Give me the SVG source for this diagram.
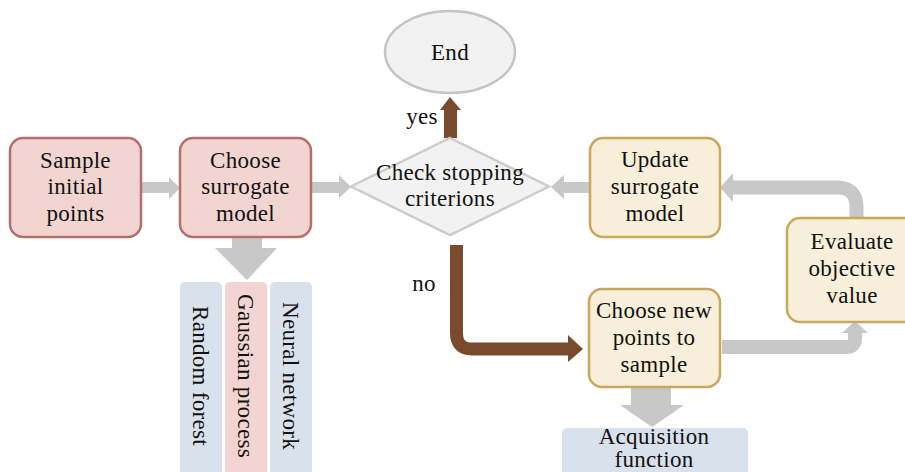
<svg xmlns="http://www.w3.org/2000/svg" width="905" height="472" viewBox="0 0 905 472">
<style>
text{font-family:"Liberation Serif","Times New Roman",serif;font-size:23px;letter-spacing:0.3px;fill:#111;text-anchor:middle}
.pink{fill:#f2d4d1;stroke:#b46f6b;stroke-width:2.5}
.cream{fill:#f7efd9;stroke:#c9a75c;stroke-width:2.5}
.blue{fill:#d9e2ec;stroke:none}
.pinkl{fill:#f2d4d1;stroke:none}
.grey{fill:#c8c8c8;stroke:none}
.greyl{fill:none;stroke:#c8c8c8;stroke-width:14}
.brown{fill:#7a4a2e;stroke:none}
.brownl{fill:none;stroke:#7a4a2e;stroke-width:13}
</style>
<rect width="905" height="472" fill="#ffffff"/>
<g id="connectors">
  <polygon class="grey" points="140,182 169,182 169,177 180,188 169,199 169,193 140,193"/>
  <polygon class="grey" points="311,182 339,182 339,175 351,187 339,198 339,193 311,193"/>
  <polygon class="grey" points="590,182 564,182 564,175 551,187 564,199 564,193 590,193"/>
  <polygon class="brown" points="444,138 444,110 440,110 450,97 461,110 457,110 457,138"/>
  <path class="brownl" d="M456.5,245 V333 Q456.5,349 472,349 H569"/>
  <polygon class="brown" points="568,335 583,349 568,362"/>
  <path class="greyl" d="M856.5,218 V207 Q856.5,187.5 837,187.5 H732"/>
  <polygon class="grey" points="733,173 720,187.5 733,202"/>
  <path class="greyl" d="M722,347 H846 Q855,347 855,338 V332"/>
  <polygon class="grey" points="842,333 855,321 868,333"/>
  <polygon class="grey" points="232,237 262,237 262,248 277,248 247,280 215,248 232,248"/>
  <polygon class="grey" points="631,387 671,387 671,405 684,405 652,427 620,405 631,405"/>
</g>
<g id="end">
  <ellipse cx="450" cy="52" rx="65" ry="41" fill="#f2f2f2" stroke="#c4c4c4" stroke-width="2.5"/>
  <text x="450" y="60">End</text>
</g>
<g id="yes-label"><text x="422" y="124">yes</text></g>
<g id="no-label"><text x="424" y="291">no</text></g>
<g id="sample">
  <rect class="pink" x="10" y="138" width="131" height="99" rx="13"/>
  <text x="75.5" y="168">Sample</text>
  <text x="75.5" y="194">initial</text>
  <text x="75.5" y="221">points</text>
</g>
<g id="choose-surrogate">
  <rect class="pink" x="180" y="138" width="131" height="99" rx="13"/>
  <text x="245.5" y="168">Choose</text>
  <text x="245.5" y="194">surrogate</text>
  <text x="245.5" y="221">model</text>
</g>
<g id="check">
  <polygon points="450,138 549,186.5 450,235 351,186.5" fill="#f2f2f2" stroke="#cccccc" stroke-width="2.5"/>
  <text x="450" y="180">Check stopping</text>
  <text x="450" y="206">criterions</text>
</g>
<g id="update">
  <rect class="cream" x="590" y="138" width="130" height="99" rx="13"/>
  <text x="655" y="167">Update</text>
  <text x="655" y="194">surrogate</text>
  <text x="655" y="221">model</text>
</g>
<g id="evaluate">
  <rect class="cream" x="787" y="218" width="132" height="104" rx="13"/>
  <text x="852" y="249">Evaluate</text>
  <text x="852" y="276">objective</text>
  <text x="852" y="303">value</text>
</g>
<g id="choose-new">
  <rect class="cream" x="589" y="289" width="131" height="98" rx="13"/>
  <text x="654" y="318">Choose new</text>
  <text x="654" y="345">points to</text>
  <text x="654" y="372">sample</text>
</g>
<g id="acquisition">
  <rect class="blue" x="562" y="428" width="186" height="60" rx="5"/>
  <text x="654" y="444">Acquisition</text>
  <text x="654" y="467">function</text>
</g>
<g id="random-forest">
  <rect class="blue" x="180" y="282" width="42" height="200" rx="5"/>
  <text transform="translate(201,376) rotate(90)" dy="0.33em">Random forest</text>
</g>
<g id="gaussian-process">
  <rect class="pinkl" x="225" y="282" width="42" height="200" rx="5"/>
  <text transform="translate(246,376) rotate(90)" dy="0.33em">Gaussian process</text>
</g>
<g id="neural-network">
  <rect class="blue" x="270" y="282" width="42" height="200" rx="5"/>
  <text transform="translate(291,376) rotate(90)" dy="0.33em">Neural network</text>
</g>
</svg>
